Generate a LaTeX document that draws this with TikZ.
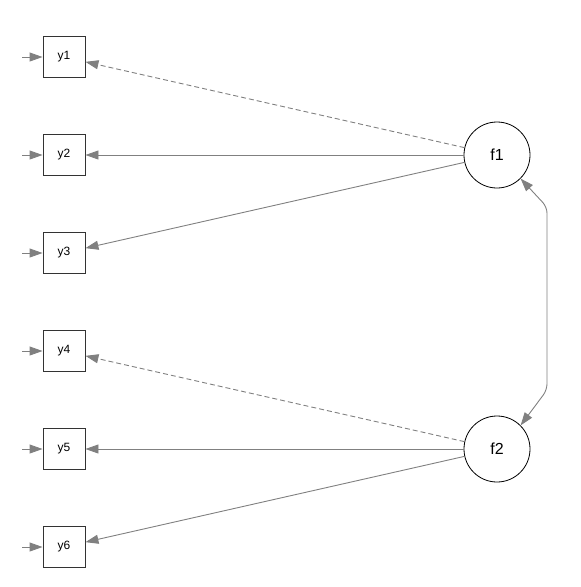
\documentclass[tikz,border=0pt]{standalone}
\usepackage{fontspec}
\setmainfont{Liberation Sans}
\usetikzlibrary{arrows.meta}
\definecolor{edgegray}{HTML}{808080}
\tikzset{
  obs/.style={draw=black!80, line width=0.9pt, minimum width=42pt, minimum height=41pt, inner sep=0pt, font=\fontsize{12}{14}\selectfont},
  lat/.style={draw=black, line width=0.8pt, circle, minimum size=66pt, inner sep=0pt, font=\fontsize{16}{19}\selectfont},
  tip/.style={Triangle[length=13pt,width=9pt]},
  edge/.style={draw=edgegray, line width=0.9pt, -{Triangle[length=13pt,width=9pt]}},
  dedge/.style={edge, dash pattern=on 5pt off 3pt},
}
\begin{document}
\begin{tikzpicture}[x=1pt,y=-1pt]
\useasboundingbox (0,0) rectangle (581,587);
\foreach \i/\yy in {1/57,2/155,3/253,4/351,5/449,6/547}{
  \node[obs] (y\i) at (64,\yy) {y\i};
  \coordinate (e\i) at (22,\yy);
  \draw[edge] (e\i) -- (y\i);
}
\node[lat] (f1) at (497,155) {f1};
\node[lat] (f2) at (497,449) {f2};
\draw[dedge] (f1) -- (y1);
\draw[edge] (f1) -- (y2);
\draw[edge] (f1) -- (y3);
\draw[dedge] (f2) -- (y4);
\draw[edge] (f2) -- (y5);
\draw[edge] (f2) -- (y6);
\coordinate (c1) at (547,207);
\coordinate (c2) at (547,390);
\draw[edge, {Triangle[length=13pt,width=9pt]}-{Triangle[length=13pt,width=9pt]}, rounded corners=6pt] (f1.-45) -- (c1) -- (c2) -- (f2.45);
\end{tikzpicture}
\end{document}
